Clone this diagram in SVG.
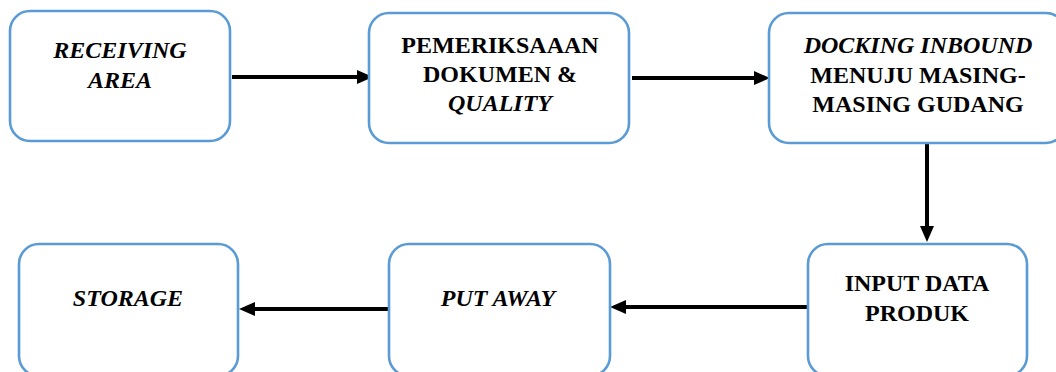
<svg xmlns="http://www.w3.org/2000/svg" width="1056" height="372" viewBox="0 0 1056 372">
<defs>
<style>
.box{fill:#ffffff;stroke:#5b9bd5;stroke-width:2.6}
.lbl{font-family:'Times New Roman','Liberation Serif',serif;font-size:24px;font-weight:bold;fill:#000;text-anchor:middle}
.ital{font-style:italic}
.conn{stroke:#000;stroke-width:4;fill:none;marker-end:url(#ah)}
</style>
<marker id="ah" markerUnits="userSpaceOnUse" markerWidth="16" markerHeight="14" refX="2" refY="7" orient="auto">
<path d="M0,0 L16,7 L0,14 z" fill="#000"/>
</marker>
</defs>
<rect width="1056" height="372" fill="#fff"/>
<g id="connectors">
<line class="conn" x1="232" y1="77" x2="359" y2="77"/>
<line class="conn" x1="632" y1="78" x2="756" y2="78"/>
<line class="conn" x1="927" y1="143" x2="927" y2="228"/>
<line class="conn" x1="808" y1="307" x2="624" y2="307"/>
<line class="conn" x1="389" y1="309" x2="253" y2="309"/>
</g>
<g id="receiving-area">
<rect class="box" x="10" y="11" width="220" height="130" rx="20"/>
<text class="lbl ital" x="120" y="58">RECEIVING</text>
<text class="lbl ital" x="120" y="88">AREA</text>
</g>
<g id="pemeriksaan">
<rect class="box" x="369" y="13" width="260" height="130" rx="20"/>
<text class="lbl" x="500" y="53">PEMERIKSAAAN</text>
<text class="lbl" x="500" y="82">DOKUMEN &amp;</text>
<text class="lbl ital" x="500" y="111">QUALITY</text>
</g>
<g id="docking">
<rect class="box" x="769" y="13" width="297" height="130" rx="20"/>
<text class="lbl ital" x="918" y="53">DOCKING INBOUND</text>
<text class="lbl" x="918" y="83">MENUJU MASING-</text>
<text class="lbl" x="918" y="112">MASING GUDANG</text>
</g>
<g id="input-data">
<rect class="box" x="808" y="244" width="219" height="132" rx="20"/>
<text class="lbl" x="917" y="291">INPUT DATA</text>
<text class="lbl" x="917" y="321">PRODUK</text>
</g>
<g id="put-away">
<rect class="box" x="389" y="244" width="221" height="132" rx="20"/>
<text class="lbl ital" x="498" y="306">PUT AWAY</text>
</g>
<g id="storage">
<rect class="box" x="19" y="244" width="219" height="132" rx="20"/>
<text class="lbl ital" x="128" y="306">STORAGE</text>
</g>
</svg>
